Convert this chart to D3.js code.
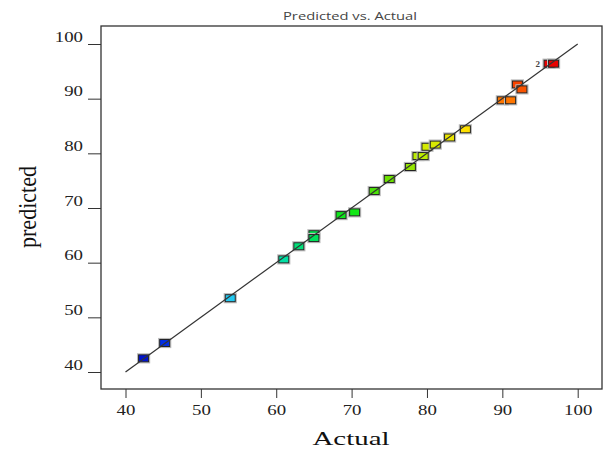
<!DOCTYPE html>
<meta charset="UTF-8">
<html>
<head>
<script src="https://d3js.org/d3.v7.min.js"></script>
<style>
	body { margin: 0; background: #fff; }
	.Tick text { font-family: "Liberation Serif", serif; font-size: 14px; fill: #222; }
</style>
</head>
<body>
<svg class="Chart"></svg>
<script>
// actual vs predicted values
var Actual    = [42.4, 45.2, 53.9, 61.0, 63.0, 65.0, 65.0, 68.6, 70.4, 73.0, 75.0, 77.8, 78.8, 79.5, 80.0, 81.1, 83.0, 85.1, 90.0, 91.1, 92.0, 92.6, 96.2, 96.8];
var Predicted = [42.5, 45.3, 53.5, 60.6, 63.0, 65.2, 64.5, 68.7, 69.2, 73.1, 75.3, 77.5, 79.5, 79.5, 81.2, 81.6, 82.9, 84.4, 89.7, 89.7, 92.6, 91.7, 96.4, 96.4];
var XTicks = [40, 50, 60, 70, 80, 90, 100];
var YTicks = [40, 50, 60, 70, 80, 90, 100];

var Width = 603, Height = 450;
var Frame = {Left: 101, Right: 602, Top: 26, Bottom: 389};

var Svg = d3.select(".Chart").attr("width", Width).attr("height", Height);

var XScale = d3.scaleLinear().domain([40, 100]).range([125.5, 577.7]);
var YScale = d3.scaleLinear().domain([40, 100]).range([372, 44]);

var ColorScale = d3.scaleLinear()
	.domain([42, 45, 53.5, 61, 65, 69, 75, 80, 84.5, 90, 96.5])
	.range(["#0010c8", "#0028e6", "#22c8f0", "#00e0a0", "#00e050", "#10e818", "#66e000", "#c4ee00", "#ffe000", "#ff7000", "#e80000"]);

// frame
Svg.append("rect")
	.attr("x", Frame.Left).attr("y", Frame.Top)
	.attr("width", Frame.Right - Frame.Left).attr("height", Frame.Bottom - Frame.Top)
	.attr("fill", "none").attr("stroke", "#333").attr("stroke-width", 1.3);

// axes
var XAxis = d3.axisBottom(XScale).tickValues(XTicks).tickSize(9).tickPadding(7);
var YAxis = d3.axisLeft(YScale).tickValues(YTicks).tickSize(13).tickPadding(5);

var XG = Svg.append("g").attr("class", "Tick")
	.attr("transform", "translate(0," + Frame.Bottom + ")")
	.call(XAxis);
XG.select(".domain").remove();
XG.selectAll("line").attr("stroke", "#333");
XG.selectAll("text")
	.attr("textLength", function(d){ return String(d).length * 9.4; })
	.attr("lengthAdjust", "spacingAndGlyphs");

var YG = Svg.append("g").attr("class", "Tick")
	.attr("transform", "translate(" + Frame.Left + ",0)")
	.call(YAxis);
YG.select(".domain").remove();
YG.selectAll("line").attr("stroke", "#333");
YG.selectAll("text")
	.attr("dy", "-0.2em")
	.attr("textLength", function(d){ return String(d).length * 9.4; })
	.attr("lengthAdjust", "spacingAndGlyphs");

// points
var Points = Actual.map(function(a, i){ return {A: a, P: Predicted[i]}; });

var Marks = Svg.append("g").selectAll("g")
	.data(Points)
	.enter()
	.append("g")
	.attr("transform", function(d){ return "translate(" + XScale(d.A) + "," + YScale(d.P) + ")"; });

Marks.append("rect")
	.attr("x", -6).attr("y", -4.5).attr("width", 12).attr("height", 9)
	.attr("fill", "none").attr("stroke", "#bbb").attr("stroke-width", 1.2);

Marks.append("rect")
	.attr("x", -5).attr("y", -3.5).attr("width", 10).attr("height", 7)
	.attr("fill", function(d){ return ColorScale(d.P); })
	.attr("stroke", "#222").attr("stroke-width", 1);

// y = x line
Svg.append("line")
	.attr("x1", XScale(40)).attr("y1", YScale(40))
	.attr("x2", XScale(100)).attr("y2", YScale(100))
	.attr("stroke", "#333").attr("stroke-width", 1.2);

// count label for overlapping points
Svg.append("text")
	.attr("x", XScale(96.2) - 9).attr("y", YScale(96.4) + 3)
	.attr("text-anchor", "end")
	.style("font-family", "Liberation Serif, serif")
	.style("font-size", "9px")
	.style("font-weight", "bold")
	.attr("fill", "#444")
	.text("2");

// titles
Svg.append("text")
	.attr("x", 350).attr("y", 20)
	.attr("text-anchor", "middle")
	.attr("textLength", 134).attr("lengthAdjust", "spacingAndGlyphs")
	.style("font-family", "Open Sans, sans-serif")
	.style("font-size", "10.5px")
	.attr("fill", "#444")
	.text("Predicted vs. Actual");

Svg.append("text")
	.attr("x", 351).attr("y", 445)
	.attr("text-anchor", "middle")
	.attr("textLength", 77).attr("lengthAdjust", "spacingAndGlyphs")
	.style("font-family", "Liberation Serif, serif")
	.style("font-size", "19px")
	.attr("fill", "#111")
	.text("Actual");

Svg.append("text")
	.attr("transform", "translate(36,207) rotate(-90)")
	.attr("text-anchor", "middle")
	.attr("textLength", 82).attr("lengthAdjust", "spacingAndGlyphs")
	.style("font-family", "Liberation Serif, serif")
	.style("font-size", "25px")
	.attr("fill", "#111")
	.text("predicted");
</script>
</body>
</html>
